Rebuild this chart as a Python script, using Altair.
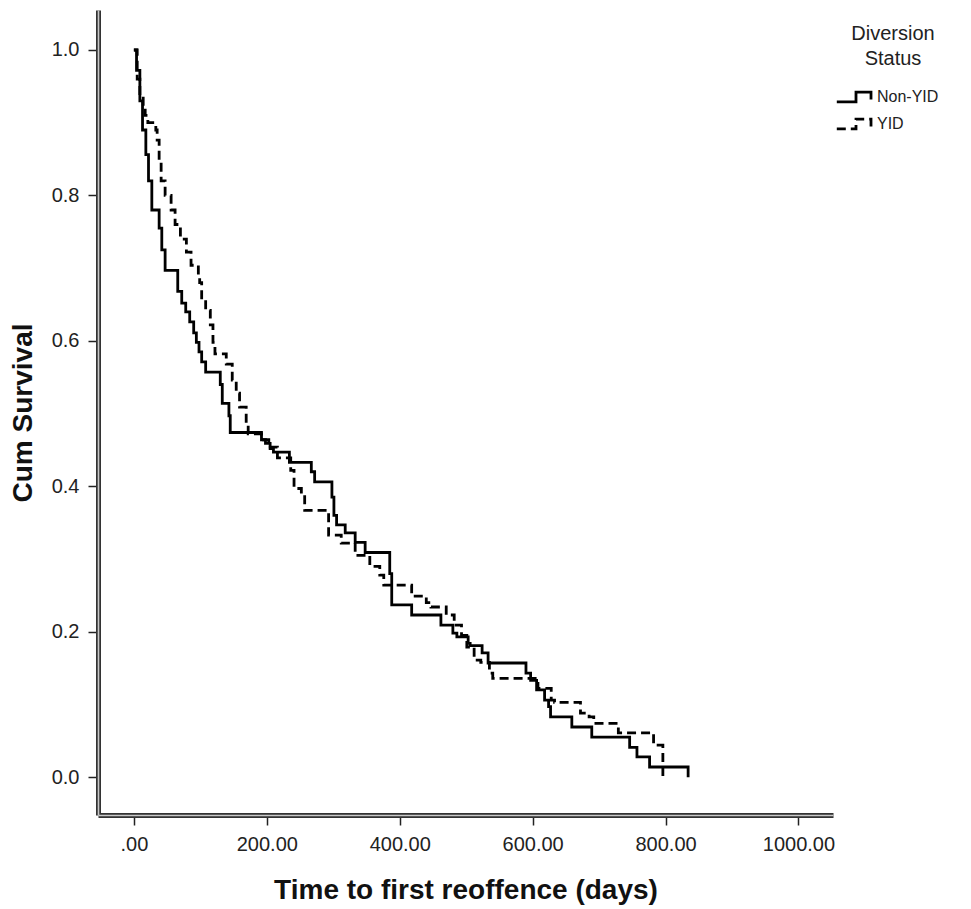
import altair as alt
import pandas as pd

# Kaplan-Meier step data
non_yid_days = [0, 4, 9, 13, 18, 22, 27, 38, 42, 47, 66, 72, 78, 84, 90, 94, 98, 102, 108,
                130, 133, 143, 145, 192, 198, 205, 210, 234, 267, 272, 298, 301, 305, 318,
                333, 348, 385, 388, 418, 462, 480, 486, 503, 506, 524, 533, 590, 597, 606,
                618, 624, 627, 659, 689, 746, 757, 776, 834]
non_yid_surv = [1.0, 0.972, 0.93, 0.89, 0.856, 0.82, 0.78, 0.755, 0.725, 0.697, 0.668, 0.652,
                0.64, 0.626, 0.611, 0.598, 0.585, 0.571, 0.557, 0.54, 0.514, 0.497, 0.474,
                0.464, 0.459, 0.452, 0.447, 0.433, 0.42, 0.406, 0.385, 0.36, 0.347, 0.336,
                0.323, 0.309, 0.28, 0.237, 0.223, 0.209, 0.198, 0.193, 0.184, 0.181, 0.171,
                0.157, 0.143, 0.133, 0.12, 0.106, 0.097, 0.083, 0.069, 0.055, 0.041, 0.028,
                0.014, 0.0]

yid_days = [0, 5, 9, 14, 17, 21, 33, 35, 38, 41, 47, 56, 62, 70, 79, 86, 97, 99, 102, 108,
            115, 119, 122, 139, 148, 154, 159, 169, 172, 192, 203, 216, 236, 241, 252, 257,
            293, 312, 333, 355, 370, 376, 418, 440, 447, 470, 482, 493, 501, 512, 522, 535,
            540, 608, 628, 633, 672, 685, 692, 729, 782, 796]
yid_surv = [1.0, 0.96, 0.938, 0.92, 0.91, 0.9, 0.89, 0.876, 0.845, 0.82, 0.8, 0.78, 0.76,
            0.74, 0.722, 0.704, 0.69, 0.68, 0.656, 0.642, 0.622, 0.598, 0.582, 0.568, 0.546,
            0.528, 0.509, 0.484, 0.472, 0.464, 0.454, 0.439, 0.422, 0.397, 0.388, 0.367,
            0.333, 0.322, 0.305, 0.29, 0.278, 0.264, 0.249, 0.24, 0.234, 0.223, 0.209, 0.195,
            0.179, 0.161, 0.158, 0.143, 0.136, 0.122, 0.106, 0.103, 0.088, 0.083, 0.074,
            0.061, 0.044, 0.0]

groups = ["Non-YID", "YID"]
x_ticks = [0, 200, 400, 600, 800, 1000]
y_ticks = [0.0, 0.2, 0.4, 0.6, 0.8, 1.0]

rows = []
for i, (d, s) in enumerate(zip(non_yid_days, non_yid_surv)):
    rows.append({"group": groups[0], "days": d, "surv": s, "idx": i})
for i, (d, s) in enumerate(zip(yid_days, yid_surv)):
    rows.append({"group": groups[1], "days": d, "surv": s, "idx": i})
df = pd.DataFrame(rows)

FONT = "Liberation Sans"
step_path = "M-3.2,0.8H0V-0.8H2.5V0.4"
x_scale = alt.Scale(domain=[-54, 1052], nice=False, zero=False)
y_scale = alt.Scale(domain=[-0.052, 1.055], nice=False, zero=False)

lines = alt.Chart(df).mark_line(
    interpolate="step-after", color="black", strokeWidth=2.8
).encode(
    x=alt.X("days:Q", scale=x_scale,
            axis=alt.Axis(title="Time to first reoffence (days)", values=x_ticks, orient="bottom",
                          labelExpr="datum.value == 0 ? '.00' : format(datum.value, '.2f')",
                          grid=False, tickSize=10, tickWidth=1.5, tickColor="#222",
                          domainColor="#333", domainWidth=5,
                          labelFont=FONT, labelFontSize=20, labelColor="#222",
                          labelPadding=9, titleFont=FONT, titleFontSize=28,
                          titleFontWeight="bold", titleColor="#111", titlePadding=22)),
    y=alt.Y("surv:Q", scale=y_scale,
            axis=alt.Axis(title="Cum Survival", values=y_ticks, format=".1f", orient="left",
                          grid=False, tickSize=10, tickWidth=1.5, tickColor="#222",
                          domainColor="#333", domainWidth=5,
                          labelFont=FONT, labelFontSize=20, labelColor="#222",
                          labelPadding=9, titleFont=FONT, titleFontSize=28,
                          titleFontWeight="bold", titleColor="#111", titlePadding=14)),
    strokeDash=alt.StrokeDash(
        "group:N",
        scale=alt.Scale(domain=groups, range=[[1, 0], [9, 5]]),
        legend=alt.Legend(
            title=["Diversion", "Status"], orient="none", legendX=750, legendY=14,
            titleFont=FONT, titleFontSize=20, titleFontWeight="normal", titleColor="#222",
            titleAnchor="middle", titleAlign="center", titleLineHeight=25, titlePadding=20,
            labelFont=FONT, labelFontSize=16, labelColor="#222", labelOffset=13,
            symbolType=step_path, symbolSize=144, symbolStrokeWidth=2.8,
            symbolStrokeColor="black", symbolFillColor="transparent",
            rowPadding=5, padding=0)),
    order="idx:Q",
)

# thin light line inside each axis line, giving the double-rule look
inner = alt.Chart(df).mark_line(opacity=0).encode(
    x=alt.X("days:Q", scale=x_scale,
            axis=alt.Axis(title=None, labels=False, ticks=False, grid=False, orient="bottom",
                          domainColor="#c8c8c8", domainWidth=1.6, zindex=2)),
    y=alt.Y("surv:Q", scale=y_scale,
            axis=alt.Axis(title=None, labels=False, ticks=False, grid=False, orient="left",
                          domainColor="#c8c8c8", domainWidth=1.6, zindex=2)),
    detail="group:N",
)

chart = alt.layer(lines, inner).resolve_axis(x="independent", y="independent").properties(
    width=735, height=805,
    background="white",
    autosize=alt.AutoSizeParams(type="none"),
    padding={"left": 90, "top": 2, "right": 130, "bottom": 92},
).configure_view(stroke=None)

chart.save("out.html", embed_options={"renderer": "svg", "actions": False})
